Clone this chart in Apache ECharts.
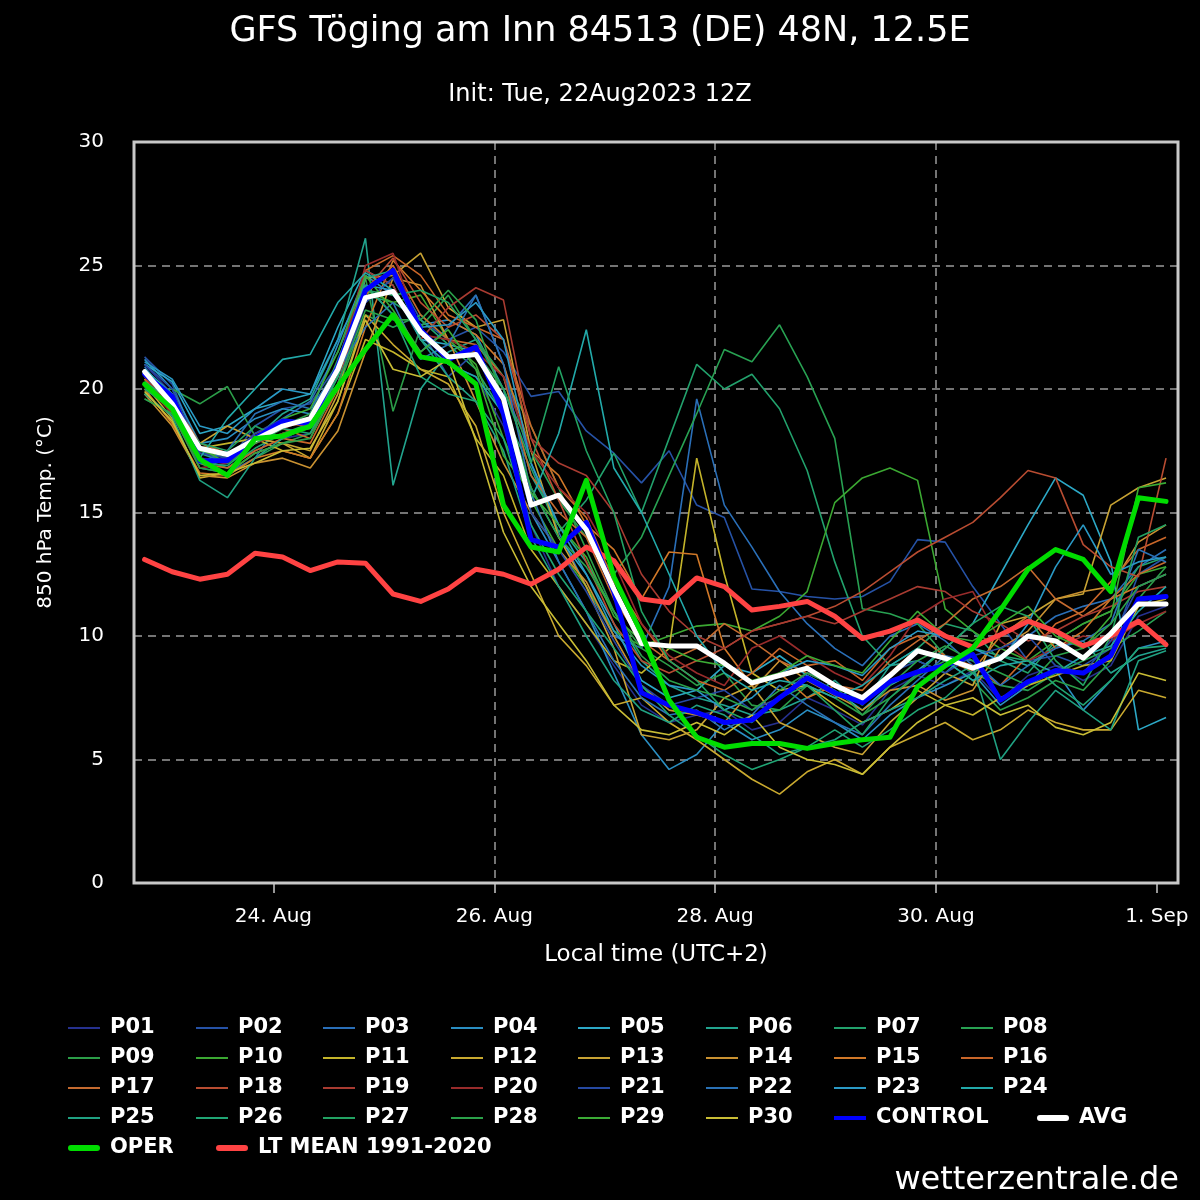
<!DOCTYPE html>
<html>
<head>
<meta charset="utf-8">
<script src="https://cdn.jsdelivr.net/npm/echarts@6/dist/echarts.min.js"></script>
<style>html,body{margin:0;padding:0;background:#000;}#c{width:1200px;height:1200px;}</style>
</head>
<body>
<div id="c"></div>
<script>
// hours relative to 24 Aug 00:00 local time (UTC+2), 6-hourly steps
const hours = [-28,-22,-16,-10,-4,2,8,14,20,26,32,38,44,50,56,62,68,74,80,86,92,98,104,110,116,122,128,134,140,146,152,158,164,170,176,182,188,194];
const tickHours = [0,48,96,144,192];
const tickLabels = ['24. Aug','26. Aug','28. Aug','30. Aug','1. Sep'];

const P01 = [21.0,19.8,17.0,16.8,17.5,18.0,18.2, 20.0,23.5,24.5,22.5,21.0,20.5, 18.5,14.5,12.0,10.5,8.8,7.2, 6.5,6.8,7.0,6.2,6.5,7.5, 7.0,6.4,7.8,8.4,8.0,8.6, 7.4,8.4,8.8,8.2,8.8,10.8,11.2];
const P02 = [21.3,20.2,17.5,17.0,18.5,19.2,19.4, 21.0,24.0,24.8,22.8,22.0,22.5, 21.5,19.7,19.9,18.3,17.4,16.2, 17.5,15.3,14.8,11.9,11.8,11.6, 11.5,11.6,12.2,13.9,13.8,12.0, 10.5,9.0,9.2,8.8,9.5,12.5,13.2];
const P03 = [20.8,19.5,16.8,16.6,17.2,18.8,19.5, 21.5,24.2,23.0,21.5,22.5,23.8, 21.0,17.0,14.2,12.0,10.0,9.5, 12.0,19.6,15.3,13.6,11.8,10.5, 9.5,8.8,10.0,10.5,9.8,8.8, 9.2,10.0,10.8,11.2,11.5,12.8,13.5];
const P04 = [21.2,20.0,17.8,18.0,18.8,19.2,19.0, 21.8,24.6,23.8,22.6,22.8,22.2, 20.0,15.0,13.0,11.0,8.5,6.0, 4.6,5.2,6.5,5.8,6.2,7.0, 6.5,5.8,6.8,7.5,8.0,8.5, 7.2,8.0,8.6,7.0,8.2,9.5,9.8];
const P05 = [21.0,20.3,18.2,18.5,19.2,19.5,19.8, 22.5,24.8,24.2,22.0,21.8,21.5, 19.0,16.0,14.0,12.5,10.5,8.2, 7.5,7.8,8.8,8.5,9.2,8.4, 7.8,7.0,8.0,8.6,9.5,10.5, 12.5,14.5,16.4,15.7,13.0,6.2,6.7];
const P06 = [20.5,19.6,17.4,17.0,18.0,19.0,19.6, 22.0,26.1,16.1,20.0,21.5,22.0, 20.5,16.5,14.5,13.0,11.0,9.0, 8.0,7.5,7.2,6.8,7.0,7.5, 8.2,7.2,8.8,9.0,8.5,9.5, 9.2,8.8,9.6,9.8,8.5,9.2,9.5];
const P07 = [20.0,19.5,17.2,16.8,17.6,18.2,18.6, 20.5,23.8,23.5,22.8,21.8,20.8, 19.0,16.8,14.2,15.5,17.4,15.0, 18.0,21.0,20.0,20.6,19.2,16.7, 13.0,10.0,8.8,9.5,10.5,10.2, 9.0,8.5,9.8,10.5,11.0,12.8,13.2];
const P08 = [19.6,19.0,17.0,16.5,17.2,17.8,18.2, 20.0,23.0,22.5,23.0,22.0,21.5, 20.0,17.5,15.5,14.0,12.5,14.0, 16.5,19.0,21.6,21.1,22.6,20.5, 18.0,11.1,10.9,10.5,9.2,8.5, 8.0,7.8,8.5,9.0,9.5,10.2,11.0];
const P09 = [19.8,20.0,19.4,20.1,18.1,18.5,19.0, 21.0,24.5,19.1,22.5,23.8,22.0, 20.5,18.5,16.0,13.5,11.0,9.5, 8.8,8.0,8.5,7.2,7.0,8.0, 7.5,6.8,7.5,8.4,9.0,8.2, 7.0,7.5,8.2,7.8,9.0,11.5,12.8];
const P10 = [20.2,19.3,17.5,17.2,17.8,18.2,18.4, 20.8,24.0,23.5,23.8,22.0,21.0, 18.0,15.5,13.5,12.0,10.2,9.6, 10.0,10.4,10.5,10.2,10.8,11.8, 15.4,16.4,16.8,16.3,11.1,10.2, 9.5,9.0,9.8,10.5,11.0,12.5,12.8];
const P11 = [20.6,19.4,17.6,17.8,18.0,17.5,17.2, 19.0,22.0,21.5,20.8,20.5,18.0, 16.5,13.5,12.0,10.5,9.0,8.5, 9.5,17.2,12.5,8.5,7.8,8.0, 7.2,6.5,7.0,7.8,7.2,6.8, 7.5,8.0,8.4,8.8,9.0,11.2,11.5];
const P12 = [20.2,18.8,16.4,16.6,17.4,17.8,17.2, 19.5,23.0,21.8,20.8,20.2,18.5, 15.0,12.5,10.0,8.8,7.2,7.5, 6.5,5.8,5.0,4.2,3.6,4.5, 5.0,4.4,5.5,6.0,6.5,5.8, 6.2,7.0,6.5,6.2,6.2,7.8,7.5];
const P13 = [20.4,19.0,17.8,18.5,18.0,17.8,17.5, 19.8,24.5,24.6,25.5,23.3,22.5, 22.8,17.5,14.0,12.0,9.5,6.0, 5.8,6.2,7.5,8.0,6.5,6.0, 5.5,5.2,6.5,7.5,8.5,8.0, 10.5,10.8,11.5,11.7,15.3,16.0,16.4];
const P14 = [19.8,18.5,16.5,16.4,17.0,17.2,16.8, 18.3,21.5,24.5,24.2,22.0,19.5, 17.0,15.0,13.5,12.2,10.0,8.0, 7.0,6.8,6.5,7.8,9.0,8.2, 7.6,7.0,7.8,8.0,7.4,7.8, 9.5,10.2,11.5,11.8,12.0,13.8,14.5];
const P15 = [20.0,18.6,16.6,16.5,17.2,17.5,17.2, 19.0,22.5,25.2,24.0,22.8,22.2, 21.0,17.5,16.5,14.5,13.5,11.5, 13.4,13.3,9.5,8.0,8.5,7.5, 8.0,7.5,8.5,9.5,9.0,8.6, 10.0,10.8,9.5,10.2,11.5,12.0,12.5];
const P16 = [20.4,19.2,17.0,16.8,17.5,18.0,17.8, 20.0,24.8,25.4,24.6,23.0,22.5, 22.0,18.5,16.0,14.8,12.2,10.5, 9.0,8.2,7.8,8.5,9.5,8.8, 9.0,8.2,9.5,10.0,9.2,8.8, 8.0,9.2,10.5,11.0,12.2,13.5,14.0];
const P17 = [20.8,19.6,17.8,17.4,17.8,18.4,18.0, 20.2,23.8,25.0,23.0,22.0,21.8, 20.5,16.5,15.0,14.0,11.5,9.8, 9.0,9.5,10.5,9.8,9.0,8.5, 8.0,7.8,9.0,9.8,10.5,11.5, 12.0,12.8,11.5,10.8,11.5,12.5,13.0];
const P18 = [20.6,19.8,17.2,17.0,18.2,18.6,18.5, 20.5,24.0,25.3,23.5,22.5,23.0, 22.0,18.0,15.5,13.0,10.5,9.0, 8.5,9.0,9.5,10.2,10.5,10.8, 11.2,11.8,12.6,13.4,14.0,14.6, 15.6,16.7,16.4,13.7,12.8,12.4,17.2];
const P19 = [20.5,19.2,17.0,17.2,18.0,18.4,18.8, 21.0,24.8,24.2,22.0,23.3,24.1, 23.6,18.0,17.0,16.5,15.0,12.5, 11.0,10.0,9.5,10.2,10.5,10.8, 10.5,11.0,11.5,12.0,11.8,11.0, 10.5,9.8,10.2,10.8,11.2,11.8,12.0];
const P20 = [20.2,19.0,16.8,17.0,17.8,18.2,18.5, 20.8,25.0,25.5,22.2,22.0,21.5, 20.5,17.5,16.0,15.0,13.0,10.5, 9.2,8.5,8.0,9.5,10.0,9.2, 8.5,8.0,9.2,10.8,11.5,11.8, 9.8,9.0,9.5,10.0,9.8,10.5,11.0];
const P21 = [21.0,20.0,17.4,17.2,18.2,18.8,18.6, 20.2,23.5,24.5,22.4,20.5,21.5, 19.2,15.0,13.5,11.8,9.8,8.0, 7.2,7.5,7.8,7.0,7.5,8.5, 8.0,7.5,8.5,9.0,8.5,9.2, 9.5,10.0,8.8,8.5,9.8,12.0,12.5];
const P22 = [20.9,19.5,17.0,17.5,19.0,19.5,19.2, 20.8,22.5,23.5,21.2,21.8,23.8, 21.0,15.8,13.0,11.0,9.0,7.5, 6.8,7.0,6.2,6.8,8.0,7.2, 6.5,6.0,7.2,8.2,9.2,9.0, 8.0,8.8,9.5,9.8,10.5,13.5,13.0];
const P23 = [21.1,20.4,18.5,18.2,19.2,20.0,19.8, 22.0,24.2,24.0,22.5,22.6,23.5, 22.0,17.0,14.5,12.5,10.2,8.8, 8.0,7.8,7.0,7.5,8.5,9.0, 8.8,8.4,9.5,10.2,10.0,9.5, 9.0,10.5,12.8,14.5,12.5,13.0,13.2];
const P24 = [20.8,19.8,17.2,18.8,20.0,21.2,21.4, 23.5,24.7,24.0,22.0,21.0,20.5, 19.0,15.5,18.2,22.4,16.8,15.0, 12.5,10.0,8.5,7.8,8.2,8.0, 7.5,8.0,8.8,9.5,9.0,8.2, 8.8,9.0,8.5,9.2,9.6,11.0,12.0];
const P25 = [19.8,18.9,16.3,15.6,17.2,18.0,18.5, 20.5,24.5,24.8,22.0,20.5,19.5, 17.5,14.0,12.0,10.0,8.2,7.0, 6.5,7.2,6.8,6.0,5.2,5.5, 5.8,6.5,7.0,7.5,8.2,8.8, 5.0,6.5,7.8,7.0,6.2,9.0,9.4];
const P26 = [20.3,19.5,17.0,16.9,17.8,18.4,18.2, 20.5,24.2,23.0,20.5,19.8,19.5, 18.0,14.5,12.5,11.0,9.5,8.0, 6.8,6.0,5.2,4.6,5.0,5.5, 6.2,5.5,6.2,7.0,7.5,8.5, 9.2,9.0,8.0,7.2,8.2,9.5,9.6];
const P27 = [20.0,19.2,17.8,17.5,18.5,18.0,18.5, 21.2,24.0,23.8,24.0,23.5,22.0, 20.0,17.0,20.9,17.5,15.0,11.0, 9.0,8.2,7.0,6.5,7.5,8.0, 7.0,6.0,7.5,8.5,9.5,10.5, 11.2,10.8,9.0,8.0,10.0,14.0,14.5];
const P28 = [19.6,19.0,16.8,16.6,17.4,17.8,18.0, 20.2,23.2,22.8,22.8,24.0,22.8, 19.5,16.0,14.0,12.8,11.0,9.2, 8.2,7.8,7.5,7.0,7.8,8.5, 8.0,6.8,8.0,9.0,9.6,9.0, 8.5,8.0,9.2,9.5,10.5,12.0,12.5];
const P29 = [20.1,19.4,17.6,17.0,17.8,18.8,19.2, 21.5,24.6,23.2,21.5,22.4,20.8, 17.3,15.8,14.5,13.2,10.8,9.8, 9.5,9.0,8.8,8.2,8.5,9.2, 8.8,8.5,9.8,11.0,10.0,9.8, 10.5,11.2,10.0,9.5,10.8,16.0,16.2];
const P30 = [19.9,18.7,16.5,16.6,17.0,17.5,17.6, 19.5,22.8,20.8,20.5,21.2,17.9, 14.2,12.0,10.5,9.0,7.2,6.2, 6.0,6.5,6.0,6.8,5.5,5.0, 4.8,4.4,5.5,6.5,7.2,7.5, 6.8,7.2,6.3,6.0,6.5,8.5,8.2];

const CONTROL = [20.6,19.7,17.1,17.1,18.0,18.7,18.6, 20.9,24.0,24.8,22.4,21.2,21.7, 19.0,13.9,13.6,14.6,11.8,7.7, 7.2,6.9,6.5,6.6,7.5,8.3, 7.7,7.3,8.15,8.55,8.8,9.25, 7.4,8.15,8.6,8.5,9.2,11.5,11.6];
const AVG = [20.7,19.4,17.6,17.35,17.95,18.5,18.8, 20.8,23.7,23.95,22.3,21.3,21.4, 19.6,15.3,15.7,14.3,11.9,9.7, 9.6,9.6,8.9,8.1,8.4,8.7, 8.0,7.5,8.4,9.4,9.1,8.7, 9.1,10.0,9.8,9.1,10.1,11.3,11.3];
const OPER = [20.2,19.2,17.15,16.5,18.0,18.1,18.5, 20.1,21.6,23.0,21.3,21.1,20.2, 15.3,13.6,13.4,16.3,12.4,10.1, 7.4,5.9,5.5,5.65,5.65,5.45, 5.65,5.8,5.9,7.95,8.8,9.5, 11.05,12.7,13.5,13.1,11.8,15.6,15.45];
const LTMEAN = [13.1,12.6,12.3,12.5,13.35,13.2,12.65, 13.0,12.95,11.7,11.4,11.9,12.7, 12.5,12.1,12.7,13.6,13.05,11.5, 11.35,12.35,12.0,11.05,11.2,11.4, 10.8,9.9,10.2,10.65,10.0,9.55, 10.05,10.6,10.2,9.6,10.0,10.6,9.65];

const memberNames = ['P01','P02','P03','P04','P05','P06','P07','P08','P09','P10','P11','P12','P13','P14','P15','P16','P17','P18','P19','P20','P21','P22','P23','P24','P25','P26','P27','P28','P29','P30'];
const memberData = [P01,P02,P03,P04,P05,P06,P07,P08,P09,P10,P11,P12,P13,P14,P15,P16,P17,P18,P19,P20,P21,P22,P23,P24,P25,P26,P27,P28,P29,P30];
const memberColors = ['#26318f','#2652a6','#2a6fb8','#2a8ec2','#2ca8c6','#22a48e','#22a16c','#28a152','#2b9d48','#3ba832',
  '#c4b42a','#c9a92f','#c7a233','#c99131','#d07828','#c96629','#c46a2f','#b84c31','#a83b31','#982b2b',
  '#2649a2','#2a71b5','#2a99c5','#22a9a9','#20a182','#20a574','#22a262','#2ba14a','#3bab35','#c9bd35'];

const FONT = 'DejaVu Sans';
const THIN_ICON = 'path://M0,0h32v2h-32z';
const MID_ICON = 'path://M0,0h32v4h-32z';
const BOLD_ICON = 'path://M3,0h26a3,3 0 0 1 0,6h-26a3,3 0 0 1 0,-6z';
const iconFor = {'OPER': BOLD_ICON, 'LT MEAN 1991-2020': BOLD_ICON, 'AVG': BOLD_ICON, 'CONTROL': MID_ICON};

const series = [];
memberNames.forEach((n, k) => {
  series.push({
    name: n, type: 'line', symbol: 'none', z: 2,
    lineStyle: {width: 1.6, color: memberColors[k]},
    itemStyle: {color: memberColors[k]},
    data: hours.map((h, i) => [h, memberData[k][i]])
  });
});
const bold = [
  ['LT MEAN 1991-2020', LTMEAN, '#ff4343', 3],
  ['CONTROL', CONTROL, '#0000ff', 4],
  ['AVG', AVG, '#ffffff', 5],
  ['OPER', OPER, '#00dd00', 6]
];
bold.forEach(b => {
  series.push({
    name: b[0], type: 'line', symbol: 'none', z: b[3],
    lineStyle: {width: 5, color: b[2], cap: 'round', join: 'round'},
    itemStyle: {color: b[2]},
    data: hours.map((h, i) => [h, b[1][i]])
  });
});

// legend blocks: [left x, first row index, names]
const legendBlocks = [
  [68, 0, ['P01','P09','P17','P25','OPER']],
  [196, 0, ['P02','P10','P18','P26']],
  [216, 4, ['LT MEAN 1991-2020']],
  [323, 0, ['P03','P11','P19','P27']],
  [451, 0, ['P04','P12','P20','P28']],
  [578, 0, ['P05','P13','P21','P29']],
  [706, 0, ['P06','P14','P22','P30']],
  [834, 0, ['P07','P15','P23','CONTROL']],
  [961, 0, ['P08','P16','P24']],
  [1037, 3, ['AVG']]
];
const legends = legendBlocks.map(b => ({
  orient: 'vertical', left: b[0], top: 1013 + 30 * b[1], itemGap: 0,
  itemWidth: 32, itemHeight: 14, padding: 0, symbolKeepAspect: true,
  data: b[2].map(n => ({name: n, icon: iconFor[n] || THIN_ICON})),
  textStyle: {color: '#fff', fontSize: 21, fontWeight: 'bold', fontFamily: FONT, lineHeight: 30, padding: [0,0,0,5]}
}));

const chart = echarts.init(document.getElementById('c'), null, {renderer: 'canvas'});
chart.setOption({
  backgroundColor: '#000',
  animation: false,
  title: [
    {text: 'GFS Töging am Inn 84513 (DE) 48N, 12.5E', left: 'center', top: 9,
     textStyle: {color: '#fff', fontSize: 35, fontWeight: 'normal', fontFamily: FONT}},
    {text: 'Init: Tue, 22Aug2023 12Z', left: 'center', top: 78,
     textStyle: {color: '#fff', fontSize: 24, fontWeight: 'normal', fontFamily: FONT}},
    {text: 'wetterzentrale.de', right: 16, top: 1160,
     textStyle: {color: '#fff', fontSize: 32, fontWeight: 'normal', fontFamily: FONT}}
  ],
  legend: legends,
  grid: {left: 134, right: 22, top: 142, bottom: 317, show: true, borderColor: '#c8c8c8', borderWidth: 3, backgroundColor: 'transparent', z: 10},
  xAxis: {
    type: 'value', min: -30.3, max: 196.6,
    name: 'Local time (UTC+2)', nameLocation: 'middle', nameGap: 61,
    nameTextStyle: {color: '#fff', fontSize: 23, fontFamily: FONT},
    axisLine: {show: false},
    axisTick: {show: true, length: 10, customValues: tickHours, lineStyle: {color: '#c8c8c8', width: 1.5}},
    axisLabel: {customValues: tickHours, color: '#fff', fontSize: 20, fontFamily: FONT, margin: 24,
      formatter: v => tickLabels[tickHours.indexOf(v)] || ''},
    splitLine: {show: true, showMinLine: false, showMaxLine: false, lineStyle: {color: '#9a9a9a', width: 1.5, type: [8, 6]}}
  },
  yAxis: {
    type: 'value', min: 0, max: 30, interval: 5,
    name: '850 hPa Temp. (°C)', nameLocation: 'middle', nameGap: 78,
    nameTextStyle: {color: '#fff', fontSize: 20, fontFamily: FONT},
    axisLine: {show: false}, axisTick: {show: false},
    axisLabel: {color: '#fff', fontSize: 20, fontFamily: FONT, margin: 30},
    splitLine: {show: true, showMinLine: false, showMaxLine: false, lineStyle: {color: '#9a9a9a', width: 1.5, type: [8, 6]}}
  },
  series: series
});
</script>
</body>
</html>
